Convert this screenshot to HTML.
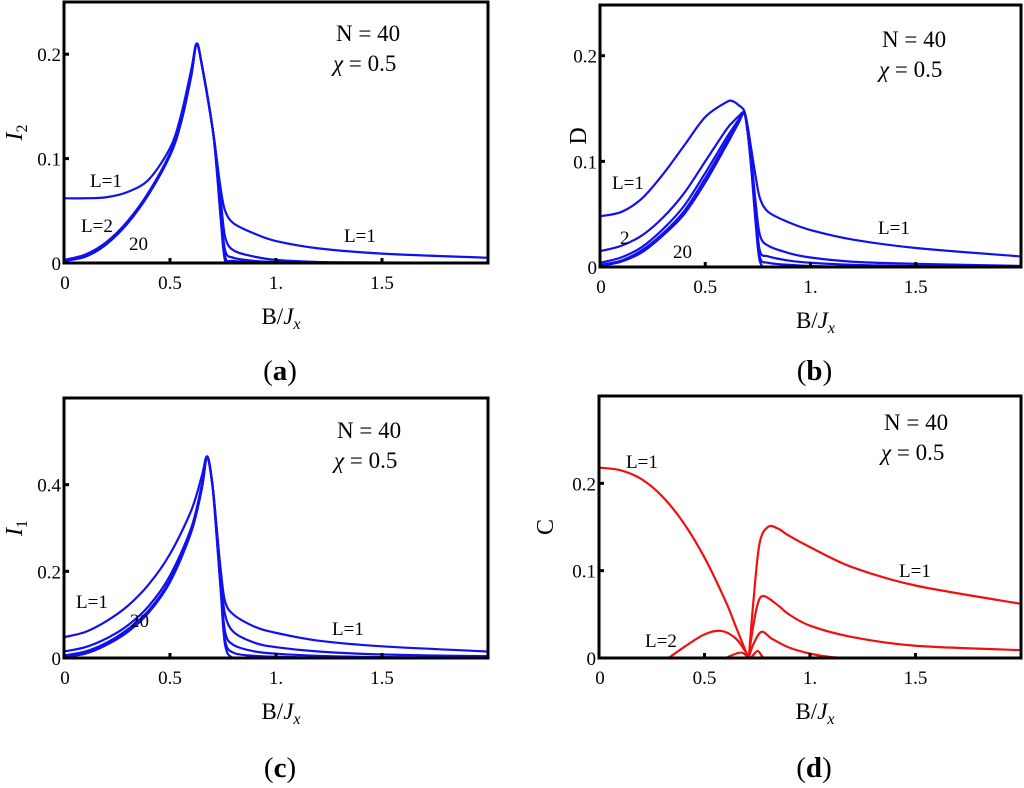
<!DOCTYPE html>
<html><head><meta charset="utf-8">
<style>
html,body{margin:0;padding:0;background:#fff;}
svg{display:block;font-family:"Liberation Serif",serif;}
</style></head>
<body>
<svg id="fig" width="1024" height="788" viewBox="0 0 1024 788" xmlns="http://www.w3.org/2000/svg"></svg>
<script>
const xsA = [0,0.1,0.2,0.3,0.4,0.5,0.55,0.6,0.625,0.65,0.7,0.72,0.74,0.76,0.8,0.9,1.0,1.2,1.5,2.0];
const a_L1 = [0.062,0.062,0.063,0.068,0.08,0.11,0.14,0.185,0.21,0.19,0.13,0.1,0.07,0.05,0.038,0.028,0.021,0.014,0.009,0.005];
const a_L2 = [0.003,0.008,0.02,0.04,0.068,0.105,0.135,0.18,0.21,0.19,0.13,0.1,0.06,0.025,0.012,0.006,0.003,0.001,0.0005,0];
const a_L3 = [0.002,0.007,0.019,0.039,0.067,0.104,0.134,0.18,0.21,0.19,0.13,0.095,0.05,0.012,0.005,0.002,0.001,0,0,0];
const a_L5 = [0.002,0.006,0.018,0.038,0.066,0.103,0.133,0.179,0.21,0.19,0.13,0.092,0.045,0.006,0.002,0.001,0,0,0,0];
const a_L20 = [0.002,0.006,0.018,0.038,0.066,0.103,0.133,0.179,0.21,0.19,0.13,0.09,0.04,0.002,0,0,0,0,0,0];

const xsB = [0,0.1,0.2,0.3,0.4,0.5,0.6,0.63,0.66,0.685,0.7,0.72,0.74,0.76,0.8,0.9,1.0,1.2,1.5,2.0];
const b_L1 = [0.048,0.052,0.065,0.088,0.115,0.142,0.156,0.157,0.153,0.148,0.135,0.11,0.085,0.065,0.052,0.042,0.035,0.026,0.018,0.01];
const b_L2 = [0.015,0.02,0.03,0.047,0.07,0.1,0.13,0.137,0.143,0.146,0.13,0.1,0.06,0.03,0.02,0.013,0.009,0.005,0.003,0.001];
const b_L3 = [0.004,0.009,0.019,0.036,0.058,0.089,0.122,0.131,0.14,0.146,0.13,0.095,0.05,0.015,0.01,0.006,0.004,0.002,0.001,0];
const b_L5 = [0.002,0.006,0.016,0.032,0.053,0.084,0.118,0.128,0.138,0.146,0.13,0.092,0.045,0.009,0.004,0.002,0.001,0,0,0];
const b_L20 = [0.001,0.005,0.014,0.03,0.05,0.08,0.115,0.126,0.137,0.146,0.13,0.09,0.04,0.005,0,0,0,0,0,0];

const xsC = [0,0.1,0.2,0.3,0.4,0.5,0.6,0.65,0.675,0.7,0.72,0.74,0.76,0.8,0.9,1.0,1.2,1.5,2.0];
const c_L1 = [0.048,0.06,0.085,0.12,0.17,0.24,0.34,0.42,0.465,0.4,0.3,0.2,0.13,0.1,0.072,0.058,0.04,0.027,0.015];
const c_L2 = [0.015,0.025,0.045,0.075,0.12,0.19,0.3,0.4,0.465,0.4,0.3,0.18,0.1,0.06,0.035,0.025,0.015,0.008,0.004];
const c_L3 = [0.006,0.015,0.035,0.066,0.11,0.18,0.295,0.395,0.465,0.4,0.29,0.165,0.06,0.03,0.015,0.01,0.005,0.002,0.001];
const c_L5 = [0.004,0.012,0.032,0.062,0.107,0.177,0.292,0.392,0.465,0.4,0.285,0.155,0.04,0.012,0.005,0.003,0.001,0,0];
const c_L20 = [0.003,0.01,0.03,0.06,0.105,0.175,0.29,0.39,0.465,0.4,0.28,0.15,0.03,0,0,0,0,0,0];

const d_L1_leftX = [0,0.1,0.2,0.3,0.4,0.5,0.6,0.65,0.7,0.71];
const d_L1_left = [0.218,0.215,0.205,0.185,0.155,0.115,0.065,0.035,0.005,0];
const d_L1_rightX = [0.71,0.73,0.76,0.8,0.85,0.9,1.0,1.2,1.5,2.0];
const d_L1_right = [0,0.06,0.13,0.15,0.148,0.14,0.127,0.104,0.083,0.062];
const d_L2_leftX = [0.33,0.4,0.5,0.58,0.65,0.7,0.71];
const d_L2_left = [0,0.012,0.027,0.031,0.022,0.005,0];
const d_L2_rightX = [0.71,0.72,0.75,0.78,0.85,0.9,1.0,1.2,1.5,2.0];
const d_L2_right = [0,0.02,0.06,0.071,0.06,0.05,0.037,0.024,0.014,0.009];
const d_L3_leftX = [0.6,0.65,0.68,0.71];
const d_L3_left = [0,0.005,0.006,0];
const d_L3_rightX = [0.71,0.73,0.77,0.82,0.9,1.0,1.1,1.2];
const d_L3_right = [0,0.015,0.03,0.022,0.012,0.005,0.001,0];
const d_L4X = [0.72,0.75,0.77,0.78];
const d_L4 = [0,0.008,0.003,0];

const xTicks = [0,0.5,1,1.5];
const xTickLabels = ["0","0.5","1.","1.5"];
const yTicksA = [0,0.1,0.2], yTickLabelsA = ["0","0.1","0.2"];
const yTicksB = [0,0.1,0.2], yTickLabelsB = ["0","0.1","0.2"];
const yTicksC = [0,0.2,0.4], yTickLabelsC = ["0","0.2","0.4"];
const yTicksD = [0,0.1,0.2], yTickLabelsD = ["0","0.1","0.2"];

const NS = "http://www.w3.org/2000/svg";
const svg = document.getElementById('fig');
function mk(tag, attrs, parent){const e=document.createElementNS(NS,tag);for(const k in attrs)e.setAttribute(k,attrs[k]);(parent||svg).appendChild(e);return e;}

function smoothPath(pts){
  let d = "M"+pts[0][0].toFixed(2)+","+pts[0][1].toFixed(2);
  for(let i=0;i<pts.length-1;i++){
    const p0=pts[Math.max(0,i-1)],p1=pts[i],p2=pts[i+1],p3=pts[Math.min(pts.length-1,i+2)];
    const t=0.16;
    const c1=[p1[0]+(p2[0]-p0[0])*t,p1[1]+(p2[1]-p0[1])*t];
    const c2=[p2[0]-(p3[0]-p1[0])*t,p2[1]-(p3[1]-p1[1])*t];
    d+=" C"+c1[0].toFixed(2)+","+c1[1].toFixed(2)+" "+c2[0].toFixed(2)+","+c2[1].toFixed(2)+" "+p2[0].toFixed(2)+","+p2[1].toFixed(2);
  }
  return d;
}

function panel(cfg){
  const g = mk('g',{});
  
  
  const L=cfg.left,R=cfg.right,T=cfg.top,B=cfg.bottom;
  const sx = v => L + v/2*(R-L);
  const sy = v => B - v/cfg.ymax*(B-T);
  const clip = mk('clipPath',{id:'clip-'+cfg.name},g);
  mk('rect',{x:L,y:T,width:R-L,height:B-T},clip);
  const cg = mk('g',{'clip-path':'url(#clip-'+cfg.name+')'},g);
  const base = mk('line',{x1:L,y1:sy(0),x2:R,y2:sy(0),stroke:cfg.color,'stroke-width':2.4},cg);
  
  
  cfg.series.forEach(s=>{
    const pts = s.x.map((xv,i)=>[sx(xv),sy(s.y[i])]);
    const p = mk('path',{d:smoothPath(pts),fill:'none',stroke:cfg.color,'stroke-width':2.2,'stroke-linejoin':'round'},cg);
    
    
  });
  const fr = mk('rect',{x:L,y:T,width:R-L,height:B-T,fill:'none',stroke:'#000','stroke-width':3},g);
  
  
  xTicks.forEach((t,i)=>{
    const tk = mk('line',{x1:sx(t),y1:B,x2:sx(t),y2:B-5,stroke:'#000','stroke-width':3},g);
    
    
    const tx = mk('text',{x:sx(t)+(t===0?1:0),y:B+26,'font-size':19,'text-anchor':'middle',fill:'#000'},g);
    tx.textContent = xTickLabels[i];
    
    
  });
  cfg.yTicks.forEach((t,i)=>{
    const tk = mk('line',{x1:L,y1:sy(t),x2:L+5,y2:sy(t),stroke:'#000','stroke-width':3},g);
    
    
    const tx = mk('text',{x:L-3,y:sy(t)+7,'font-size':19,'text-anchor':'end',fill:'#000'},g);
    tx.textContent = cfg.yTickLabels[i];
    
    
  });
  const xt = mk('text',{x:(L+R)/2+5,y:B+61,'font-size':23,'text-anchor':'middle',fill:'#000'},g);
  xt.innerHTML = 'B/<tspan font-style="italic">J</tspan><tspan font-style="italic" font-size="16" dy="5">x</tspan>';
  
  
  const yt = mk('text',{x:0,y:0,'font-size':24,'text-anchor':'middle',fill:'#000',transform:'translate('+(cfg.yLabelX)+','+((T+B)/2)+') rotate(-90)'},g);
  yt.innerHTML = cfg.yLabel;
  
  
  const n = mk('text',{x:cfg.nx,y:cfg.ny,'font-size':23,fill:'#000'},g);
  n.textContent = 'N = 40';
  
  
  const c = mk('text',{x:cfg.nx-3,y:cfg.ny+30,'font-size':23,fill:'#000'},g);
  c.innerHTML = '<tspan font-style="italic">χ</tspan> = 0.5';
  
  
  cfg.labels.forEach(l=>{
    const t = mk('text',{x:l[1],y:l[2],'font-size':19,fill:'#000'},g);
    t.textContent = l[0];
    
    
  });
  const pl = mk('text',{x:(L+R)/2+4,y:cfg.plY,'font-size':29,'text-anchor':'middle',fill:'#000'},g);
  pl.innerHTML = '(<tspan font-weight="bold">'+cfg.letter+'</tspan>)';
  
  
}

const blue = '#1010f0', red = '#f01010';
panel({name:'panel-a',left:64,right:488,top:2,bottom:263,ymax:0.25,color:blue,
  yTicks:yTicksA,yTickLabels:yTickLabelsA,yLabel:'<tspan font-style="italic">I</tspan><tspan font-size="16" dy="5">2</tspan>',yLabelX:22,
  nx:336,ny:41,letter:'a',plY:380,
  labels:[['L=1',90,187],['L=2',81,232],['20',129,250],['L=1',344,242]],
  series:[{name:'curve-a-L1',x:xsA,y:a_L1},{name:'curve-a-L2',x:xsA,y:a_L2},{name:'curve-a-L3',x:xsA,y:a_L3},{name:'curve-a-L5',x:xsA,y:a_L5},{name:'curve-a-L20',x:xsA,y:a_L20}]});
panel({name:'panel-b',left:600,right:1021,top:5,bottom:267,ymax:0.248,color:blue,
  yTicks:yTicksB,yTickLabels:yTickLabelsB,yLabel:'D',yLabelX:586,
  nx:882,ny:47,letter:'b',plY:380,
  labels:[['L=1',612,189],['2',620,244],['20',673,258],['L=1',878,234]],
  series:[{name:'curve-b-L1',x:xsB,y:b_L1},{name:'curve-b-L2',x:xsB,y:b_L2},{name:'curve-b-L3',x:xsB,y:b_L3},{name:'curve-b-L5',x:xsB,y:b_L5},{name:'curve-b-L20',x:xsB,y:b_L20}]});
panel({name:'panel-c',left:64,right:488,top:398,bottom:658,ymax:0.6,color:blue,
  yTicks:yTicksC,yTickLabels:yTickLabelsC,yLabel:'<tspan font-style="italic">I</tspan><tspan font-size="16" dy="5">1</tspan>',yLabelX:22,
  nx:337,ny:438,letter:'c',plY:777,
  labels:[['L=1',76,608],['20',130,627],['L=1',332,635]],
  series:[{name:'curve-c-L1',x:xsC,y:c_L1},{name:'curve-c-L2',x:xsC,y:c_L2},{name:'curve-c-L3',x:xsC,y:c_L3},{name:'curve-c-L5',x:xsC,y:c_L5},{name:'curve-c-L20',x:xsC,y:c_L20}]});
panel({name:'panel-d',left:599,right:1021,top:396,bottom:658,ymax:0.3,color:red,
  yTicks:yTicksD,yTickLabels:yTickLabelsD,yLabel:'C',yLabelX:553,
  nx:884,ny:430,letter:'d',plY:777,
  labels:[['L=1',626,468],['L=2',645,647],['L=1',899,577]],
  series:[{name:'curve-d-L1-left',x:d_L1_leftX,y:d_L1_left},{name:'curve-d-L1-right',x:d_L1_rightX,y:d_L1_right},
          {name:'curve-d-L2-left',x:d_L2_leftX,y:d_L2_left},{name:'curve-d-L2-right',x:d_L2_rightX,y:d_L2_right},
          {name:'curve-d-L3-left',x:d_L3_leftX,y:d_L3_left},{name:'curve-d-L3-right',x:d_L3_rightX,y:d_L3_right},
          {name:'curve-d-L4',x:d_L4X,y:d_L4}]});
</script>
</body></html>
